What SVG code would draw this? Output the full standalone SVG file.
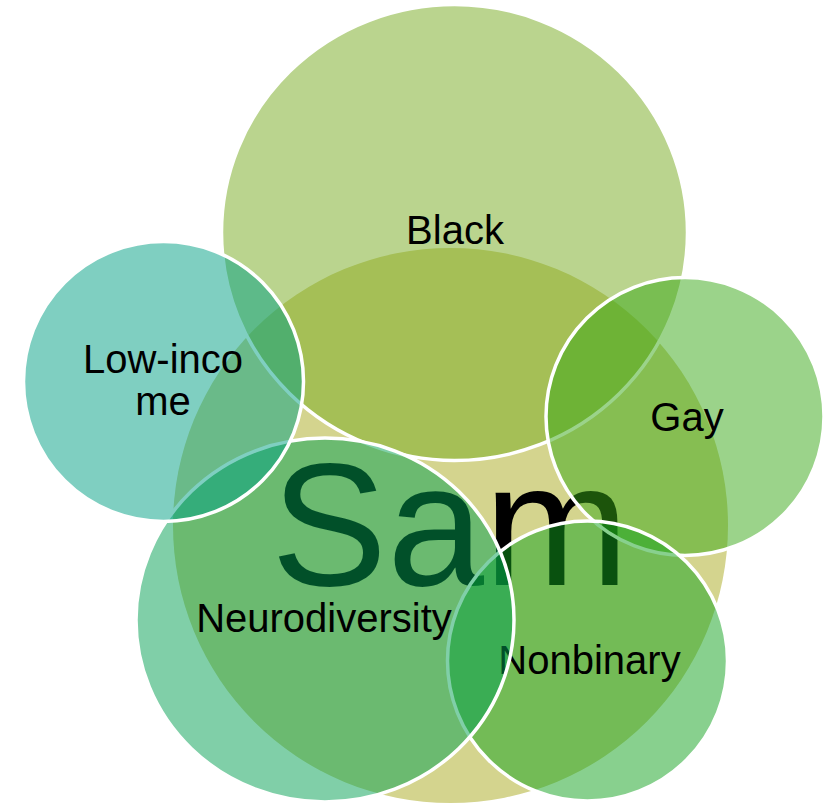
<svg xmlns="http://www.w3.org/2000/svg" width="825" height="805" viewBox="0 0 825 805">
  <style>
    .bubble { stroke: #ffffff; stroke-width: 3.5; fill-opacity: 0.5; }
    .label { font-family: "Liberation Sans", Arial, sans-serif; font-size: 40px; fill: #000000; text-anchor: middle; }
    .core { font-family: "Liberation Sans", Arial, sans-serif; font-size: 174px; fill: #000000; text-anchor: middle; }
  </style>
  <rect width="825" height="805" fill="#ffffff"/>

  <!-- centre: the person -->
  <g id="sam">
    <circle cx="450.5" cy="525.5" r="277.5" fill="#d4d48e"/>
    <text class="core" x="450" y="585">Sam</text>
  </g>

  <!-- surrounding identities, translucent, drawn clockwise from the top -->
  <g id="black">
    <ellipse class="bubble" cx="454.5" cy="232.5" rx="233" ry="228" fill="#75a91d"/>
    <text class="label" x="455" y="244">Black</text>
  </g>

  <g id="gay">
    <circle class="bubble" cx="685" cy="416.5" r="139" fill="#37a715"/>
    <text class="label" x="687" y="431">Gay</text>
  </g>

  <g id="nonbinary">
    <circle class="bubble" cx="587.5" cy="661" r="140" fill="#11a11d"/>
    <text class="label" x="589.5" y="674">Nonbinary</text>
  </g>

  <g id="neurodiversity">
    <ellipse class="bubble" cx="325" cy="620" rx="189" ry="182" fill="#019f51"/>
    <text class="label" x="324" y="632">Neurodiversity</text>
  </g>

  <g id="low-income">
    <circle class="bubble" cx="163.5" cy="381.5" r="140" fill="#009f83"/>
    <text class="label" x="163" y="373">Low-inco</text>
    <text class="label" x="163" y="415">me</text>
  </g>

  <g id="connectors"/>
</svg>
